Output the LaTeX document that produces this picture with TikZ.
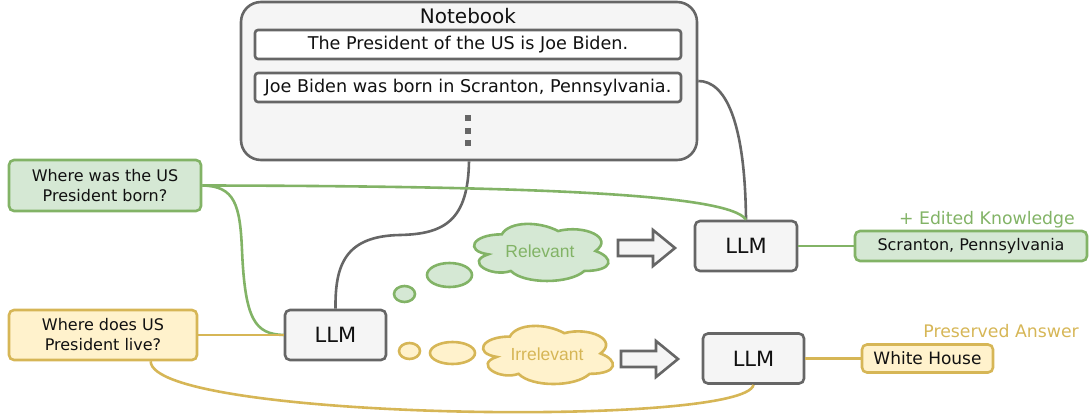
\documentclass[tikz,border=0pt]{standalone}
\usepackage{fontspec}
\setmainfont{DejaVu Sans}
\newfontfamily\cloudfont{Liberation Sans}
\usetikzlibrary{shapes.geometric,calc}
\definecolor{grn}{HTML}{82B366}
\definecolor{grnf}{HTML}{D5E8D4}
\definecolor{ylw}{HTML}{D6B656}
\definecolor{ylwf}{HTML}{FFF2CC}
\definecolor{gry}{HTML}{666666}
\definecolor{gryf}{HTML}{F5F5F5}
\definecolor{txt}{HTML}{111111}
\newcommand\blkarrow[2]{%
  \draw[gry, fill=gryf, line width=2.6pt, line join=miter]
    (#1,#2-8) -- ++(35,0) -- ++(0,-10) -- ++(22,18) -- ++(-22,18) -- ++(0,-10) -- ++(-35,0) -- cycle;}
% draw.io style cloud: origin x, origin y, width, height, colour, fill
\newcommand\cloudshape[6]{%
  \begin{scope}[shift={(#1,#2)}, xscale=#3, yscale=#4]
  \draw[#5, fill=#6, line width=2.6pt]
    (0.25,0.25) .. controls (0.05,0.25) and (0,0.5) .. (0.16,0.55)
    .. controls (0,0.66) and (0.18,0.9) .. (0.31,0.8)
    .. controls (0.4,1) and (0.7,1) .. (0.8,0.8)
    .. controls (1,0.8) and (1,0.6) .. (0.875,0.5)
    .. controls (1,0.3) and (0.8,0.1) .. (0.625,0.2)
    .. controls (0.5,0.05) and (0.3,0.05) .. (0.25,0.25) -- cycle;
  \end{scope}}
\begin{document}
\begin{tikzpicture}[x=1pt,y=-1pt,
  box/.style={draw, rounded corners=5pt, line width=2.6pt, inner sep=0pt, align=center, text=txt},
  greenbox/.style={box, draw=grn, fill=grnf},
  yellowbox/.style={box, draw=ylw, fill=ylwf},
  llmbox/.style={box, draw=gry, fill=gryf, minimum width=101pt, minimum height=50pt, font=\fontsize{21}{25}\selectfont},
  notebox/.style={draw=gry, fill=white, rounded corners=3pt, line width=2.6pt, minimum width=426pt, minimum height=29pt, inner sep=0pt, text=txt, font=\fontsize{17.6}{20}\selectfont},
  bubble/.style={ellipse, line width=2.6pt, inner sep=0pt},
  thoughttext/.style={inner sep=0pt, font=\cloudfont\fontsize{17.5}{20}\selectfont},
  conn/.style={line width=2.6pt},
  qfont/.style={font=\fontsize{16}{20}\selectfont},
  lbl/.style={anchor=east, inner sep=0pt, font=\fontsize{17.3}{20}\selectfont}
]
\useasboundingbox (0,0) rectangle (1092,420);

% Notebook
\node[draw=gry, fill=gryf, rounded corners=20pt, line width=2.6pt, minimum width=456pt, minimum height=158pt, inner sep=0pt] (nb) at (469,81) {};
\node[inner sep=0pt, text=txt, font=\fontsize{20}{23}\selectfont] (nbt) at (468,16) {Notebook};
\node[notebox] (f1) at (468,44.5) {The President of the US is Joe Biden.};
\node[notebox] (f2) at (468,87.5) {Joe Biden was born in Scranton, Pennsylvania.};
\foreach \yy [count=\i] in {118,131,143}
  \node[fill=gry, minimum size=5.5pt, inner sep=0pt] (dot\i) at (468,\yy) {};

% Questions
\node[greenbox, qfont, minimum width=192pt, minimum height=51pt] (gq) at (105,185.5) {Where was the US\\President born?};
\node[yellowbox, qfont, minimum width=188pt, minimum height=50pt] (yq) at (103,335) {Where does US\\President live?};

% LLMs
\node[llmbox] (llm1) at (335.5,335) {LLM};
\node[llmbox, minimum width=102pt] (llm2) at (746,246) {LLM};
\node[llmbox] (llm3) at (753.5,358.5) {LLM};

% Answers
\node[greenbox, minimum width=232pt, minimum height=30pt, font=\fontsize{16}{20}\selectfont] (ans1) at (971,246) {Scranton, Pennsylvania};
\node[yellowbox, minimum width=131pt, minimum height=28pt, font=\fontsize{17}{20}\selectfont] (ans2) at (927.5,358.5) {White House};
\node[lbl, text=grn] (l1) at (1075,220) {+ Edited Knowledge};
\node[lbl, text=ylw] (l2) at (1079,331) {Preserved Answer};

% Thought bubbles
\node[bubble, draw=grn, fill=grnf, minimum width=21pt, minimum height=16pt] (gb1) at (404.5,294) {};
\node[bubble, draw=grn, fill=grnf, minimum width=45pt, minimum height=24pt] (gb2) at (449.5,275) {};
\cloudshape{464.3}{217.7}{150}{66.6}{grn}{grnf}
\node[thoughttext, text=grn] (rel) at (540,251) {Relevant};
\node[bubble, draw=ylw, fill=ylwf, minimum width=21pt, minimum height=16pt] (yb1) at (409.5,351) {};
\node[bubble, draw=ylw, fill=ylwf, minimum width=45pt, minimum height=22pt] (yb2) at (452.5,353) {};
\cloudshape{473.6}{319.6}{145}{67.8}{ylw}{ylwf}
\node[thoughttext, text=ylw] (irr) at (547,354) {Irrelevant};

% Block arrows
\blkarrow{618}{248}
\blkarrow{621}{359}

% Connectors
\draw[conn, gry] (nb.south) .. controls (468,220) and (445,234) .. (400,235)
  .. controls (345,236) and (335,265) .. (llm1.north);
\draw[conn, gry] (nb.east) .. controls (725,81) and (745,120) .. (llm2.north);
\draw[conn, grn] (gq.east) .. controls (550,186) and (730,195) .. (llm2.north);
\draw[conn, grn] (gq.east) .. controls (235,186) and (240,205) .. (242,250)
  .. controls (245,320) and (255,334) .. (llm1.west);
\draw[conn, ylw] (yq.east) -- (llm1.west);
\draw[conn, ylw] ($(yq.south west)!0.75!(yq.south east)$) .. controls (152,420) and (745,428) .. (llm3.south);
\draw[conn, grn] (llm2.east) -- (ans1.west);
\draw[conn, ylw] (llm3.east) -- (ans2.west);
\end{tikzpicture}
\end{document}
